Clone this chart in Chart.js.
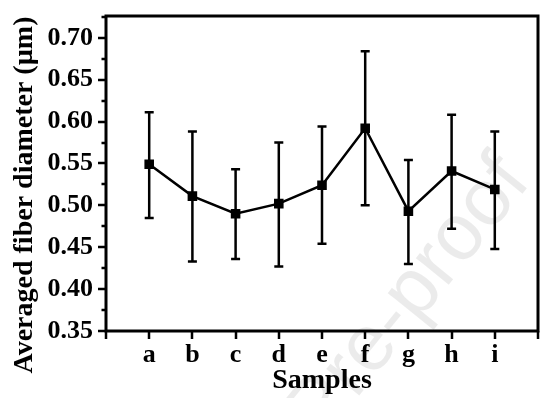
<!DOCTYPE html>
<html>
<head>
<meta charset="utf-8">
<script src="https://cdn.jsdelivr.net/npm/chart.js@4.4.1/dist/chart.umd.min.js"></script>
<style>
  html, body { margin: 0; padding: 0; background: #fff; }
  #wrap { width: 554px; height: 398px; }
</style>
</head>
<body>
<div id="wrap"><canvas id="plotCanvas"></canvas></div>
<script>
// --- Data ---
const samples = ["a", "b", "c", "d", "e", "f", "g", "h", "i"];
const meanDiameter = [0.549, 0.511, 0.490, 0.502, 0.524, 0.592, 0.493, 0.541, 0.519];
const upperBar = [0.611, 0.588, 0.543, 0.575, 0.594, 0.684, 0.554, 0.608, 0.588];
const lowerBar = [0.485, 0.433, 0.436, 0.427, 0.454, 0.500, 0.430, 0.472, 0.448];
const yTicks = [0.35, 0.40, 0.45, 0.50, 0.55, 0.60, 0.65, 0.70];
const yTitle = "Averaged fiber diameter (\u00b5m)";

const serif = "'Liberation Serif', 'Times New Roman', serif";

// --- Frame, ticks, error bars, watermark ---
const decorations = {
  id: "decorations",
  beforeDatasetsDraw(chart) {
    const { ctx, scales: { x, y } } = chart;
    ctx.save();
    // watermark
    ctx.translate(532, 182);
    ctx.rotate(-0.89);
    ctx.font = "80px 'Liberation Sans', Arial, sans-serif";
    ctx.fillStyle = "rgba(0,0,0,0.08)";
    ctx.textAlign = "right";
    ctx.fillText("Journal Pre-proof", 0, 0);
    ctx.restore();

    ctx.save();
    ctx.strokeStyle = "#000";
    ctx.lineWidth = 2.5;
    // error bars
    samples.forEach((s, i) => {
      const px = x.getPixelForValue(i);
      const top = y.getPixelForValue(upperBar[i]);
      const bot = y.getPixelForValue(lowerBar[i]);
      ctx.beginPath();
      ctx.moveTo(px, top); ctx.lineTo(px, bot);
      ctx.moveTo(px - 4.5, top); ctx.lineTo(px + 4.5, top);
      ctx.moveTo(px - 4.5, bot); ctx.lineTo(px + 4.5, bot);
      ctx.stroke();
    });
    ctx.restore();
  },
  afterDraw(chart) {
    const { ctx, chartArea: a, scales: { x, y } } = chart;
    ctx.save();
    ctx.strokeStyle = "#000";
    ctx.lineWidth = 3;
    ctx.strokeRect(a.left, a.top, a.right - a.left, a.bottom - a.top);
    ctx.lineWidth = 2.5;
    ctx.beginPath();
    // y ticks, major + minor
    for (let v = 0.35; v <= 0.7251; v += 0.025) {
      const py = Math.round(y.getPixelForValue(v));
      const major = Math.abs(v * 20 - Math.round(v * 20)) < 1e-6;
      ctx.moveTo(a.left, py);
      ctx.lineTo(a.left - (major ? 8 : 4.5), py);
    }
    // x ticks
    for (let i = -1; i <= 9; i++) {
      const px = Math.round(x.getPixelForValue(i));
      ctx.moveTo(px, a.bottom);
      ctx.lineTo(px, a.bottom + 8);
    }
    ctx.stroke();
    // y axis title, sits a little below the axis centre in the figure
    ctx.translate(25, 195);
    ctx.rotate(-Math.PI / 2);
    ctx.font = "bold 28px " + serif;
    ctx.fillStyle = "#000";
    ctx.textAlign = "center";
    ctx.textBaseline = "middle";
    ctx.fillText(yTitle, 0, 0);
    ctx.restore();
  }
};

const ctx = document.getElementById("plotCanvas").getContext("2d");
new Chart(ctx, {
  type: "line",
  data: {
    datasets: [{
      label: "Averaged fiber diameter",
      data: meanDiameter.map((v, i) => ({ x: i, y: v })),
      borderColor: "#000",
      backgroundColor: "#000",
      borderWidth: 2.5,
      tension: 0,
      fill: false,
      pointStyle: "rect",
      pointRadius: 5,
      pointHoverRadius: 5
    }]
  },
  plugins: [decorations],
  options: {
    responsive: true,
    maintainAspectRatio: false,
    animation: false,
    layout: { padding: { top: 16, right: 16, left: 0, bottom: 0 } },
    plugins: {
      legend: { display: false },
      tooltip: { enabled: false }
    },
    scales: {
      x: {
        type: "linear",
        min: -1,
        max: 9,
        afterFit: s => { s.height = 67; s.paddingLeft = 0; s.paddingRight = 0; },
        afterBuildTicks: s => { s.ticks = samples.map((c, i) => ({ value: i })); },
        ticks: {
          stepSize: 1,
          autoSkip: false,
          maxRotation: 0,
          padding: 9,
          color: "#000",
          font: { size: 26, weight: "bold", family: serif },
          callback: v => samples[v] ?? ""
        },
        grid: { display: false, drawTicks: false },
        border: { display: false },
        title: {
          display: true,
          text: "Samples",
          color: "#000",
          padding: { top: -13, bottom: 0 },
          font: { size: 28, weight: "bold", family: serif }
        }
      },
      y: {
        min: 0.35,
        max: 0.726,
        afterFit: s => { s.width = 106; s.paddingTop = 0; s.paddingBottom = 0; },
        afterBuildTicks: s => { s.ticks = yTicks.map(v => ({ value: v })); },
        ticks: {
          padding: 13,
          color: "#000",
          font: { size: 26, weight: "bold", family: serif },
          callback: v => v.toFixed(2)
        },
        grid: { display: false, drawTicks: false },
        border: { display: false }
      }
    }
  }
});
</script>
</body>
</html>
